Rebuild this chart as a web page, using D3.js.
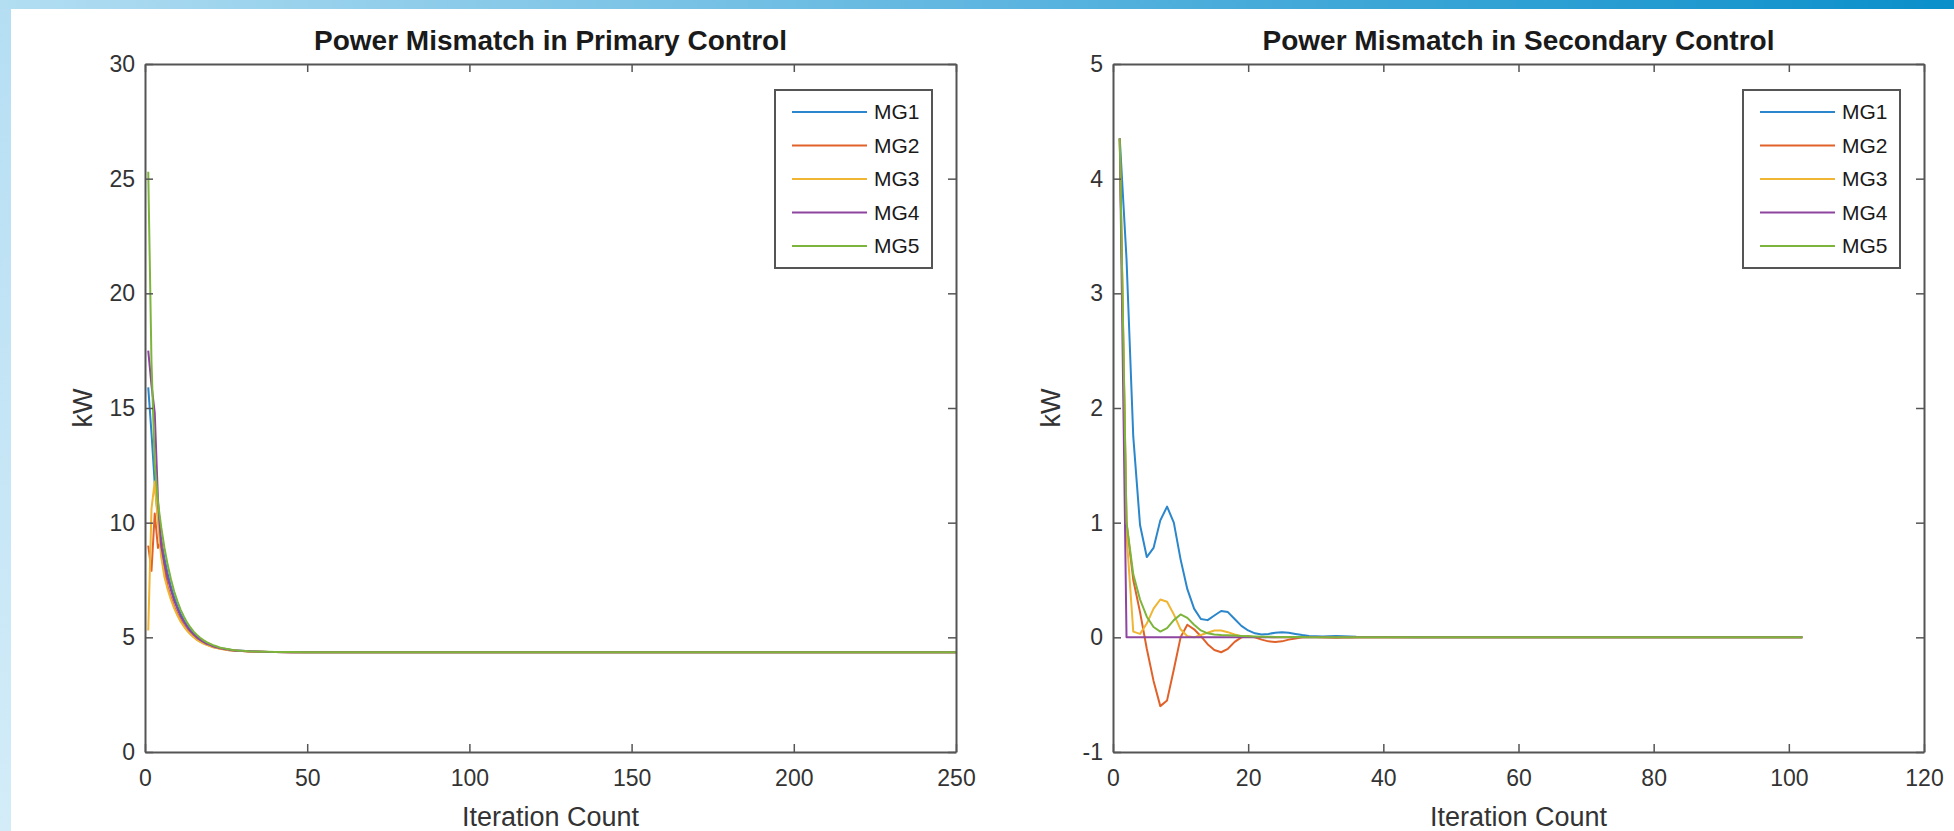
<!DOCTYPE html>
<html><head><meta charset="utf-8">
<script src="https://cdn.jsdelivr.net/npm/d3@7"></script>
<style>
body{margin:0;background:#fff;overflow:hidden}
svg{display:block}
text{font-family:"Liberation Sans",Arial,Helvetica,sans-serif}
</style>
</head><body>
<svg id="c" width="1954" height="831"></svg>
<script>
// ---------------- data ----------------
const seriesNames = ["MG1","MG2","MG3","MG4","MG5"];
const seriesColors = ["#2b86cb","#e0622a","#efb533","#8d45a0","#7db43c"];

const primaryTitle = "Power Mismatch in Primary Control";
const secondaryTitle = "Power Mismatch in Secondary Control";
const xLabel = "Iteration Count";
const yLabel = "kW";

const primaryXTicks = [0,50,100,150,200,250];
const primaryYTicks = [0,5,10,15,20,25,30];
const secondaryXTicks = [0,20,40,60,80,100,120];
const secondaryYTicks = [-1,0,1,2,3,4,5];

const primaryIter = [1,2,3,4,5,6,7,8,9,10,11,12,13,14,15,16,17,18,19,20,21,22,23,24,25,26,27,28,29,30,32,34,36,38,40,45,50,60,80,100,150,200,250];
const primaryMG1 = [15.9,13.9,11.7,10.2,9.26,8.45,7.77,7.21,6.74,6.35, 6.02,5.75,5.51,5.32,5.16,5.03,4.92,4.83,4.75,4.68, 4.63,4.58,4.54,4.51,4.49,4.46,4.44,4.43,4.42,4.41, 4.39,4.38,4.37,4.36,4.36, 4.35,4.35,4.35,4.35,4.35,4.35,4.35,4.35];
const primaryMG2 = [9.0,7.9,10.4,8.9,9.2,8.0,7.2,6.74,6.34,6.02, 5.74,5.51,5.32,5.16,5.03,4.91,4.82,4.75,4.68,4.63, 4.58,4.55,4.51,4.49,4.46,4.44,4.43,4.42,4.41,4.40, 4.38,4.37,4.37,4.36,4.36, 4.35,4.35,4.35,4.35,4.35,4.35,4.35,4.35];
const primaryMG3 = [5.3,10.6,11.8,10.0,8.5,7.63,7.09,6.64,6.26,5.95, 5.68,5.47,5.28,5.13,5.0,4.89,4.8,4.73,4.67,4.62, 4.57,4.54,4.5,4.48,4.46,4.44,4.43,4.41,4.4,4.4, 4.38,4.37,4.37,4.36,4.36, 4.35,4.35,4.35,4.35,4.35,4.35,4.35,4.35];
const primaryMG4 = [17.5,16.0,14.8,11.0,8.98,8.22,7.58,7.05,6.6,6.24, 5.92,5.67,5.45,5.27,5.12,4.99,4.89,4.8,4.72,4.67, 4.61,4.57,4.53,4.5,4.48,4.46,4.44,4.42,4.41,4.4, 4.39,4.38,4.37,4.36,4.36, 4.35,4.35,4.35,4.35,4.35,4.35,4.35,4.35];
const primaryMG5 = [25.3,17.0,12.6,10.87,9.8,8.9,8.15,7.53,7.0,6.57, 6.2,5.9,5.64,5.43,5.25,5.1,4.98,4.88,4.79,4.72, 4.66,4.61,4.56,4.53,4.5,4.48,4.45,4.44,4.42,4.41, 4.39,4.38,4.37,4.37,4.36, 4.36,4.35,4.35,4.35,4.35,4.35,4.35,4.35];

const secondaryIter = [1,2,3,4,5,6,7,8,9,10,11,12,13,14,15,16,17,18,19,20,21,22,23,24,25,26,27,28,29,30,31,32,33,34,35,36,37,38,39,40,45,50,60,80,102];
const secondaryMG1 = [4.35,3.3,1.75,0.98,0.7,0.78,1.02,1.14,1.0,0.68, 0.42,0.25,0.16,0.15,0.19,0.23,0.22,0.16,0.1,0.06, 0.035,0.025,0.03,0.04,0.045,0.04,0.03,0.02,0.012,0.01, 0.008,0.01,0.012,0.01,0.008,0.005,0.004,0.003,0.002,0.002, 0.001,0,0,0,0];
const secondaryMG2 = [4.35,1.0,0.5,0.22,-0.1,-0.38,-0.6,-0.55,-0.28,0.0, 0.11,0.07,0.01,-0.06,-0.11,-0.13,-0.1,-0.04,0.0,0.01, 0.0,-0.02,-0.035,-0.04,-0.035,-0.02,-0.01,0.0,0.002,0.002, 0.0,-0.002,-0.003,-0.002,-0.001,0,0,0,0,0, 0,0,0,0,0];
const secondaryMG3 = [4.35,0.9,0.05,0.03,0.12,0.25,0.33,0.31,0.2,0.07, 0.01,0.0,0.02,0.04,0.06,0.06,0.045,0.025,0.01,0.005, 0.003,0.002,0.002,0.001,0.001,0,0,0,0,0, 0,0,0,0,0,0,0,0,0,0, 0,0,0,0,0];
const secondaryMG4 = [4.35,0,0,0,0,0,0,0,0,0, 0,0,0,0,0,0,0,0,0,0, 0,0,0,0,0,0,0,0,0,0, 0,0,0,0,0,0,0,0,0,0, 0,0,0,0,0];
const secondaryMG5 = [4.35,1.0,0.55,0.33,0.18,0.09,0.05,0.08,0.15,0.2, 0.17,0.11,0.06,0.035,0.025,0.02,0.018,0.015,0.012,0.01, 0.008,0.006,0.005,0.004,0.003,0.003,0.002,0.002,0.001,0.001, 0,0,0,0,0,0,0,0,0,0, 0,0,0,0,0];

// ---------------- drawing ----------------
const svg = d3.select("#c");
const W = 1954, H = 831;

// page decoration (blue strips)
const defs = svg.append("defs");
const gTop = defs.append("linearGradient").attr("id","gtop").attr("x1","0").attr("x2","1").attr("y1","0").attr("y2","0");
gTop.append("stop").attr("offset","0").attr("stop-color","#b3def2");
gTop.append("stop").attr("offset","0.5").attr("stop-color","#5fb6e0");
gTop.append("stop").attr("offset","1").attr("stop-color","#0a8fca");
const gLeft = defs.append("linearGradient").attr("id","gleft").attr("x1","0").attr("x2","0").attr("y1","0").attr("y2","1");
gLeft.append("stop").attr("offset","0").attr("stop-color","#b5def3");
gLeft.append("stop").attr("offset","1").attr("stop-color","#d3ecf8");
svg.append("rect").attr("x",0).attr("y",0).attr("width",W).attr("height",H).attr("fill","#fff");
svg.append("rect").attr("x",0).attr("y",0).attr("width",11).attr("height",H).attr("fill","url(#gleft)");
svg.append("rect").attr("x",0).attr("y",0).attr("width",W).attr("height",9).attr("fill","url(#gtop)");

const axisColor = "#555";
const textColor = "#333";
const plotTop = 64, plotBottom = 752;
const fmt = d => String(d);

function panel(cfg){
  const x = d3.scaleLinear().domain([cfg.xTicks[0], cfg.xTicks[cfg.xTicks.length-1]]).range([cfg.left, cfg.right]);
  const y = d3.scaleLinear().domain([cfg.yTicks[0], cfg.yTicks[cfg.yTicks.length-1]]).range([plotBottom, plotTop]);
  const g = svg.append("g");

  // lines
  const line = d3.line().x(d => x(d[0])).y(d => y(d[1]));
  cfg.series.forEach((vals, i) => {
    const pts = cfg.iter.map((it, k) => [it, vals[k]]);
    g.append("path").datum(pts).attr("d", line)
      .attr("fill","none").attr("stroke", seriesColors[i]).attr("stroke-width", 2)
      .attr("stroke-linejoin","round");
  });

  // axes
  const ax = [
    {a: d3.axisBottom(x).tickValues(cfg.xTicks).tickFormat(fmt).tickSizeInner(-8).tickSizeOuter(0).tickPadding(18), t:`translate(0,${plotBottom})`},
    {a: d3.axisTop(x).tickValues(cfg.xTicks).tickSizeInner(-8).tickSizeOuter(0).tickFormat(""), t:`translate(0,${plotTop})`},
    {a: d3.axisLeft(y).tickValues(cfg.yTicks).tickFormat(fmt).tickSizeInner(-8).tickSizeOuter(0).tickPadding(10), t:`translate(${cfg.left},0)`},
    {a: d3.axisRight(y).tickValues(cfg.yTicks).tickSizeInner(-8).tickSizeOuter(0).tickFormat(""), t:`translate(${cfg.right},0)`}
  ];
  ax.forEach(o => {
    const ag = g.append("g").attr("transform", o.t).call(o.a);
    ag.select(".domain").attr("stroke", axisColor).attr("stroke-width", 2);
    ag.selectAll(".tick line").attr("stroke", axisColor).attr("stroke-width", 1.5);
    ag.selectAll(".tick text").attr("fill", textColor).style("font-size","23px")
      .style("font-family",'"Liberation Sans",Arial,Helvetica,sans-serif');
  });

  // title and labels
  g.append("text").attr("x",(cfg.left+cfg.right)/2).attr("y",50).attr("text-anchor","middle")
    .style("font-size","28px").style("font-weight","bold").attr("fill","#1a1a1a").text(cfg.title);
  g.append("text").attr("x",(cfg.left+cfg.right)/2).attr("y",826).attr("text-anchor","middle")
    .style("font-size","27px").attr("fill",textColor).text(xLabel);
  g.append("text").attr("transform",`translate(${cfg.left-53},${(plotTop+plotBottom)/2}) rotate(-90)`)
    .attr("text-anchor","middle").style("font-size","27px").attr("fill",textColor).text(yLabel);

  // legend
  const lw = 157, lh = 178;
  const lx = cfg.right - 24 - lw, ly = plotTop + 26;
  const lg = g.append("g").attr("transform",`translate(${lx},${ly})`);
  lg.append("rect").attr("width",lw).attr("height",lh).attr("fill","#fff").attr("stroke",axisColor).attr("stroke-width",2);
  seriesNames.forEach((nm,i) => {
    const yy = 22 + i*33.5;
    lg.append("line").attr("x1",17).attr("x2",92).attr("y1",yy).attr("y2",yy)
      .attr("stroke",seriesColors[i]).attr("stroke-width",2);
    lg.append("text").attr("x",99).attr("y",yy).attr("dy","0.35em")
      .style("font-size","21px").attr("fill","#1a1a1a").text(nm);
  });
}

panel({left:145, right:956, xTicks:primaryXTicks, yTicks:primaryYTicks, title:primaryTitle,
  iter:primaryIter, series:[primaryMG1,primaryMG2,primaryMG3,primaryMG4,primaryMG5]});
panel({left:1113, right:1924, xTicks:secondaryXTicks, yTicks:secondaryYTicks, title:secondaryTitle,
  iter:secondaryIter, series:[secondaryMG1,secondaryMG2,secondaryMG3,secondaryMG4,secondaryMG5]});
</script>
</body></html>
